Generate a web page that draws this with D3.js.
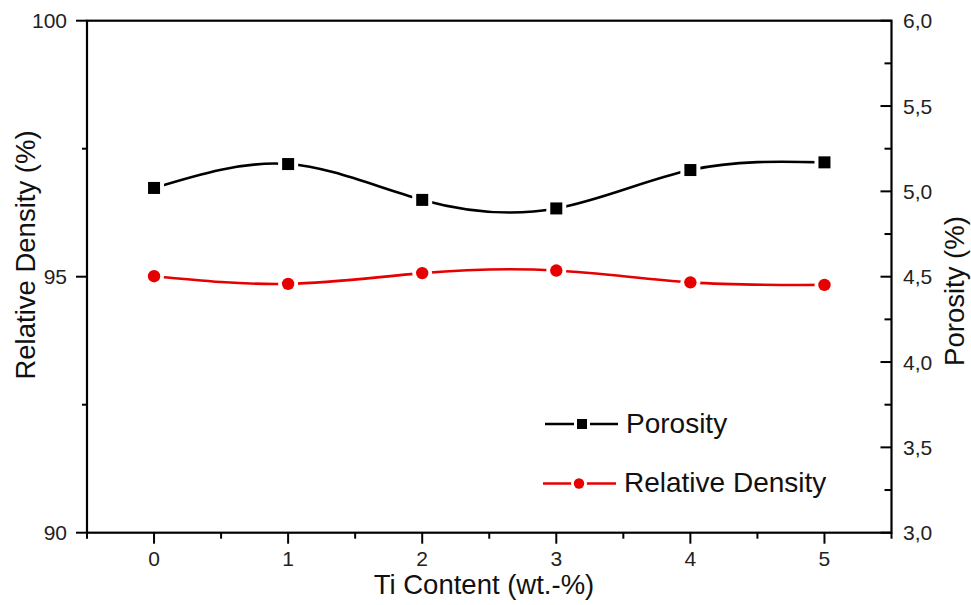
<!DOCTYPE html>
<html><head><meta charset="utf-8">
<script src="https://cdn.jsdelivr.net/npm/d3@7"></script>
<style>html,body{margin:0;padding:0;background:#fff;}svg{display:block;font-family:"Liberation Sans",Arial,sans-serif;}</style>
</head><body>
<svg id="c" width="971" height="605"></svg>
<script>
const tiContent = [0, 1, 2, 3, 4, 5];
const porosity = [5.02, 5.16, 4.95, 4.90, 5.125, 5.17];
const relDensity = [95.01, 94.86, 95.07, 95.12, 94.89, 94.84];
const leftTicks = [90, 95, 100];
const rightTicks = [3.0, 3.5, 4.0, 4.5, 5.0, 5.5, 6.0];
const xTicks = [0, 1, 2, 3, 4, 5];

const svg = d3.select("#c");
const L = 87, R = 891.5, T = 20.7, B = 532.7;
const x = d3.scaleLinear().domain([-0.5, 5.5]).range([L, R]);
const yL = d3.scaleLinear().domain([90, 100]).range([B, T]);
const yR = d3.scaleLinear().domain([3, 6]).range([B, T]);
const fmtR = v => d3.format(".1f")(v).replace(".", ",");

const g = svg.append("g");
function tick(x1,y1,x2,y2){ g.append("line").attr("x1",x1).attr("y1",y1).attr("x2",x2).attr("y2",y2).attr("stroke","#000").attr("stroke-width",2); }
[92.5, 97.5].forEach(v => tick(L-5, yL(v), L, yL(v)));
leftTicks.forEach(v => tick(L-11, yL(v), L, yL(v)));
d3.range(3.25, 6, 0.5).forEach(v => tick(R-7, yR(v), R, yR(v)));
rightTicks.forEach(v => tick(R-11, yR(v), R, yR(v)));
d3.range(-0.5, 5.6, 1).forEach(v => tick(x(v), B, x(v), B+6));
xTicks.forEach(v => tick(x(v), B, x(v), B+11));

svg.append("rect").attr("x",L).attr("y",T).attr("width",R-L).attr("height",B-T)
  .attr("fill","none").attr("stroke","#000").attr("stroke-width",2.2);

const tfs = 21;
leftTicks.forEach(v => svg.append("text").attr("x",67).attr("y",yL(v)).attr("dy","0.36em")
  .attr("text-anchor","end").attr("font-size",tfs).attr("fill","#222").text(v));
rightTicks.forEach(v => svg.append("text").attr("x",903).attr("y",yR(v)).attr("dy","0.36em")
  .attr("text-anchor","start").attr("font-size",tfs).attr("fill","#222").text(fmtR(v)));
xTicks.forEach(v => svg.append("text").attr("x",x(v)).attr("y",566)
  .attr("text-anchor","middle").attr("font-size",tfs).attr("fill","#222").text(v));

const afs = 27.5;
svg.append("text").attr("x",484).attr("y",594).attr("text-anchor","middle").attr("font-size",afs).attr("fill","#111").text("Ti Content (wt.-%)");
svg.append("text").attr("transform","translate(35,255) rotate(-90)").attr("text-anchor","middle").attr("font-size",afs).attr("fill","#111").text("Relative Density (%)");
svg.append("text").attr("transform","translate(964,291) rotate(-90)").attr("text-anchor","middle").attr("font-size",afs).attr("fill","#111").text("Porosity (%)");

const red = "#e60000";
const lineP = d3.line().x((d,i)=>x(tiContent[i])).y(d=>yR(d)).curve(d3.curveNatural);
const lineD = d3.line().x((d,i)=>x(tiContent[i])).y(d=>yL(d)).curve(d3.curveNatural);
svg.append("path").attr("d",lineP(porosity)).attr("fill","none").attr("stroke","#000").attr("stroke-width",2.6);
svg.append("path").attr("d",lineD(relDensity)).attr("fill","none").attr("stroke",red).attr("stroke-width",2.6);

porosity.forEach((v,i)=>{
  const cx = x(tiContent[i]), cy = yR(v);
  svg.append("rect").attr("x",cx-10).attr("y",cy-10).attr("width",20).attr("height",20).attr("fill","#fff");
  svg.append("rect").attr("x",cx-6).attr("y",cy-6).attr("width",12).attr("height",12).attr("fill","#000");
});
relDensity.forEach((v,i)=>{
  const cx = x(tiContent[i]), cy = yL(v);
  svg.append("circle").attr("cx",cx).attr("cy",cy).attr("r",10).attr("fill","#fff");
  svg.append("circle").attr("cx",cx).attr("cy",cy).attr("r",6.2).attr("fill",red);
});

const lg = svg.append("g");
lg.append("line").attr("x1",545).attr("x2",618).attr("y1",424).attr("y2",424).attr("stroke","#000").attr("stroke-width",2.6);
lg.append("rect").attr("x",574).attr("y",416).attr("width",16).attr("height",16).attr("fill","#fff");
lg.append("rect").attr("x",577).attr("y",419).attr("width",10).attr("height",10).attr("fill","#000");
lg.append("text").attr("x",626).attr("y",433).attr("font-size",28).attr("fill","#111").text("Porosity");
lg.append("line").attr("x1",543).attr("x2",616).attr("y1",483.5).attr("y2",483.5).attr("stroke",red).attr("stroke-width",2.6);
lg.append("circle").attr("cx",579).attr("cy",483.5).attr("r",8).attr("fill","#fff");
lg.append("circle").attr("cx",579).attr("cy",483.5).attr("r",5.2).attr("fill",red);
lg.append("text").attr("x",624).attr("y",492).attr("font-size",28).attr("fill","#111").text("Relative Density");
</script>
</body></html>
